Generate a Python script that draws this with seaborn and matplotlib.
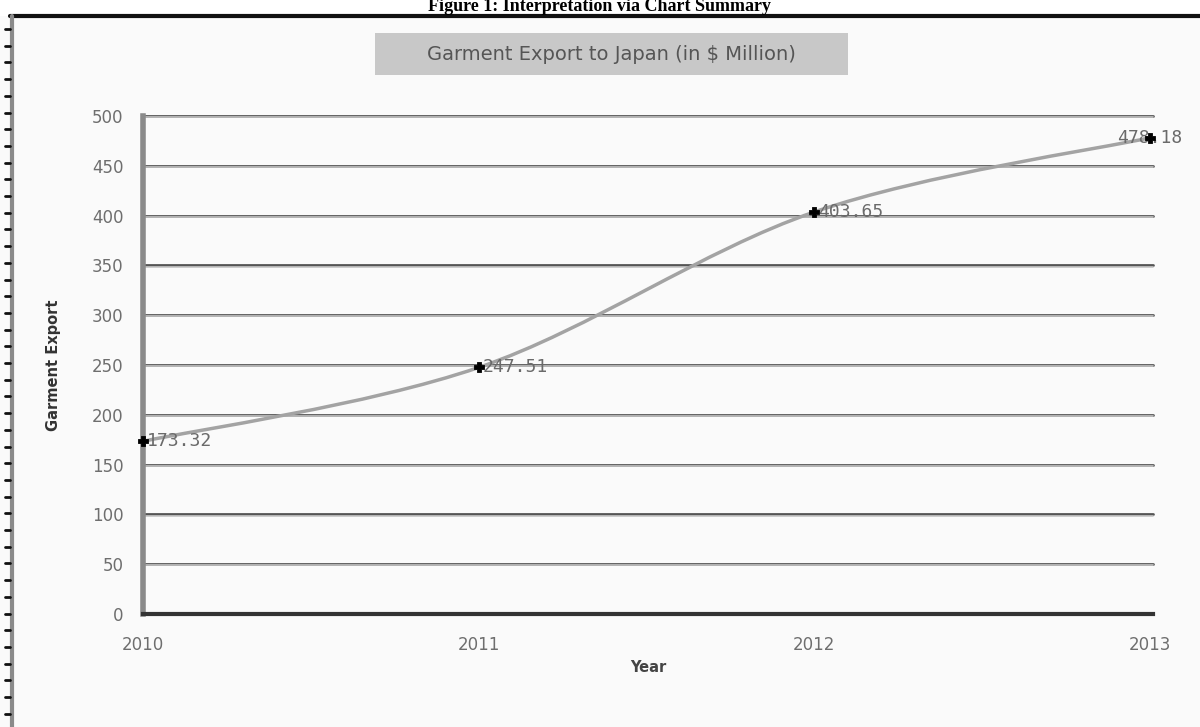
import numpy as np
import matplotlib
matplotlib.use("Agg")
import matplotlib.pyplot as plt
from matplotlib.path import Path
from matplotlib.patches import PathPatch, Rectangle
from matplotlib.lines import Line2D
import seaborn as sns

years = [2010, 2011, 2012, 2013]
exports = [173.32, 247.51, 403.65, 478.18]
labels = ["173.32", "247.51", "403.65", "478.18"]
yticks = list(range(0, 501, 50))

sns.set_theme(style="white")
plt.rcParams['font.family'] = ['DejaVu Sans']

W, H = 1200, 727
fig = plt.figure(figsize=(12, 7.27), dpi=100, facecolor='#fafafa')
ax = fig.add_axes([143 / W, 1 - 614 / H, (1153 - 143) / W, (614 - 116) / H])
ax.set_facecolor('#fafafa')

# smoothed line (Excel-style) as bezier through the data points
pts = np.column_stack([years, exports]).astype(float)
ext = np.vstack([pts[0], pts, pts[-1]])
verts = [tuple(pts[0])]
codes = [Path.MOVETO]
for i in range(1, len(ext) - 2):
    p0, p1, p2, p3 = ext[i - 1], ext[i], ext[i + 1], ext[i + 2]
    c1 = p1 + (p2 - p0) / 6
    c2 = p2 - (p3 - p1) / 6
    verts += [tuple(c1), tuple(c2), tuple(p2)]
    codes += [Path.CURVE4] * 3
ax.add_patch(PathPatch(Path(verts, codes), facecolor='none', edgecolor='#a3a3a3', lw=2.5, zorder=3))

sns.scatterplot(x=years, y=exports, ax=ax, marker='P', s=55, color='black',
                edgecolor='black', zorder=5, clip_on=False)

for i, (x, y, t) in enumerate(zip(years, exports, labels)):
    if i == len(years) - 1:
        ax.annotate(t, (x, y), xytext=(0, 0), textcoords='offset points', ha='center', va='center',
                    fontsize=13, color='#6a6a6a', family='DejaVu Sans Mono', zorder=4, annotation_clip=False)
    else:
        ax.annotate(t, (x, y), xytext=(3, 0), textcoords='offset points', ha='left', va='center',
                    fontsize=13, color='#6a6a6a', family='DejaVu Sans Mono', zorder=4)

ax.set_xlim(2010, 2013.009)
ax.set_ylim(0, 500)
ax.set_yticks(yticks)
ax.set_xticks(years)
ax.set_yticklabels([str(v) for v in yticks], color='#6e6e6e', fontsize=12)
ax.set_xticklabels([str(v) for v in years], color='#6e6e6e', fontsize=12)
ax.tick_params(axis='y', length=0, pad=14)
ax.tick_params(axis='x', direction='in', length=10, width=3, color='#555555', pad=16)

for v in yticks[1:]:
    ax.axhline(v, color='#555555', lw=2, zorder=1, clip_on=False)
    ax.axhline(v - 1.2, color='#c4c4c4', lw=1.2, zorder=1, clip_on=False)

for s in ['top', 'right']:
    ax.spines[s].set_visible(False)
ax.spines['left'].set_color('#8a8a8a')
ax.spines['left'].set_linewidth(4)
ax.spines['bottom'].set_color('#333333')
ax.spines['bottom'].set_linewidth(3)

ax.set_xlabel('Year', fontsize=10.5, fontweight='bold', color='#444444', labelpad=4)
ax.set_ylabel('Garment Export', fontsize=10.5, fontweight='bold', color='#333333', labelpad=22)

# chart title box
fig.add_artist(Rectangle((375 / W, 1 - 75 / H), (848 - 375) / W, 42 / H, transform=fig.transFigure,
                         facecolor='#c8c8c8', edgecolor='none'))
fig.text(611 / W, 1 - 54 / H, 'Garment Export to Japan (in $ Million)', ha='center', va='center',
         fontsize=14, color='#555555')

# page caption and frame
fig.add_artist(Rectangle((0, 1 - 16 / H), 1, 16 / H, transform=fig.transFigure,
                         facecolor='white', edgecolor='none', zorder=0))
fig.text(600 / W, 1 - 11 / H, 'Figure 1: Interpretation via Chart Summary', ha='center', va='baseline',
         fontsize=13, fontweight='bold', family=['Liberation Serif', 'DejaVu Serif'], color='black')
fig.add_artist(Line2D([10 / W, 1], [1 - 16 / H, 1 - 16 / H], color='#111111', lw=3))
fig.add_artist(Line2D([12 / W, 12 / W], [0, 1 - 16 / H], color='#8a8a8a', lw=3))
for ty in np.arange(29, H, 16.7):
    fig.add_artist(Line2D([5 / W, 10 / W], [1 - ty / H, 1 - ty / H], color='#111111', lw=2))

fig.savefig('out.png', dpi=100, facecolor=fig.get_facecolor())
